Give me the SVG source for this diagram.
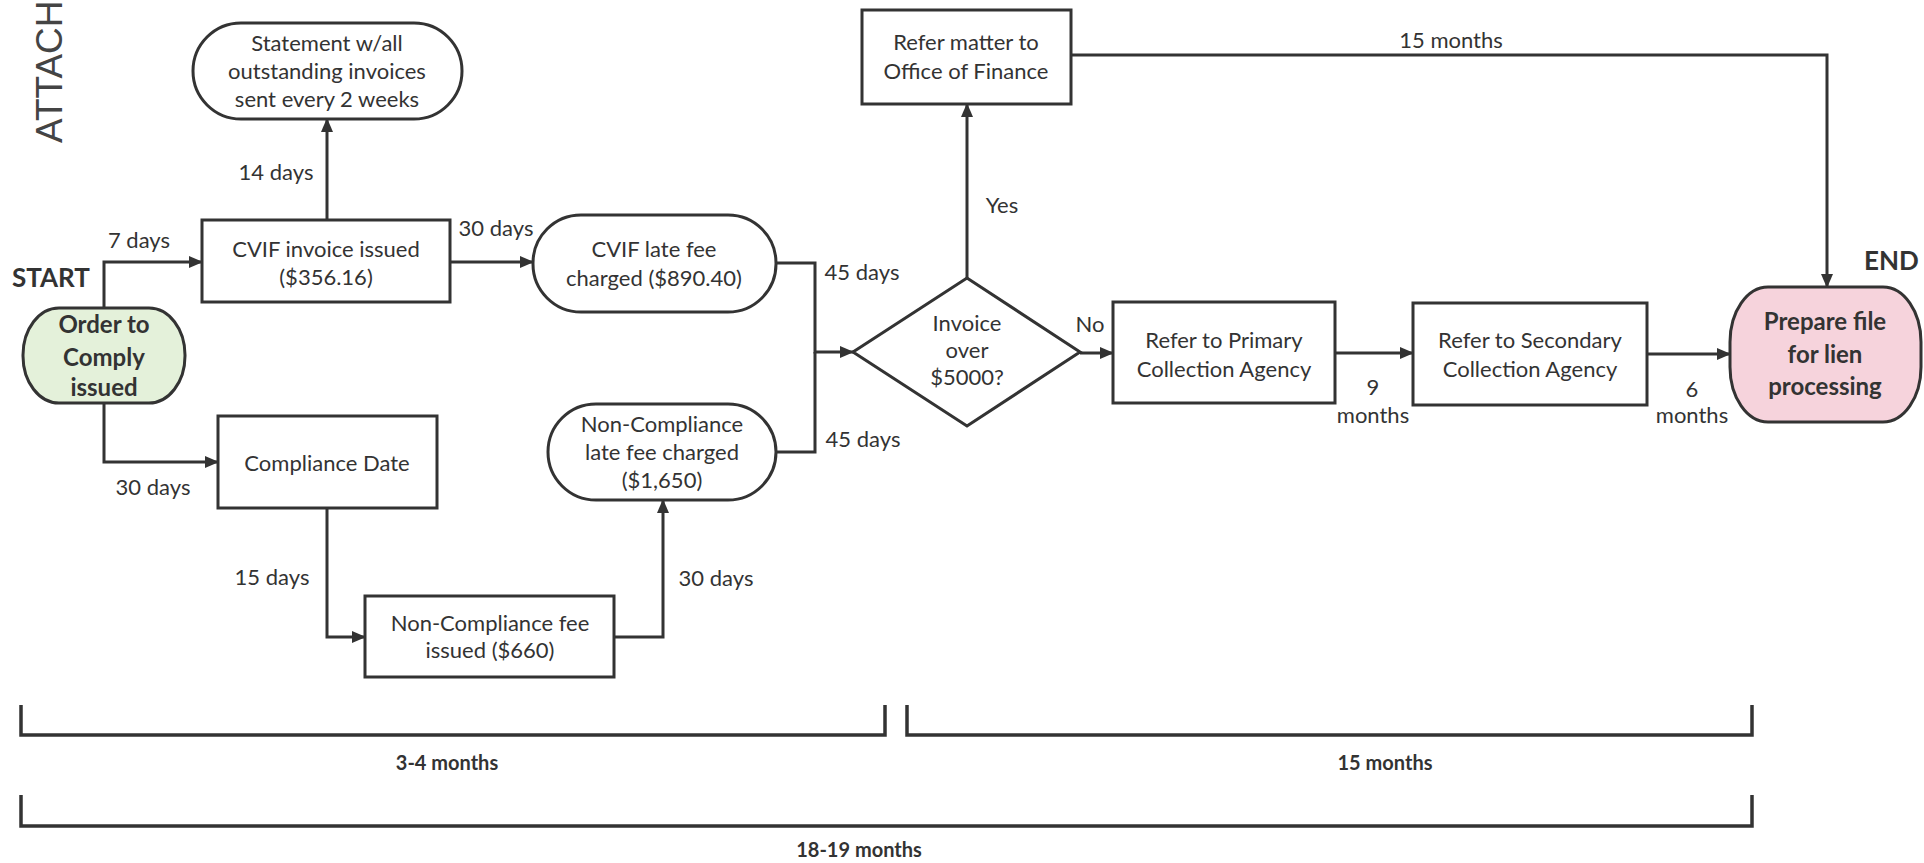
<svg xmlns="http://www.w3.org/2000/svg" width="1924" height="863" viewBox="0 0 1924 863">
<defs>
<marker id="ah" markerUnits="userSpaceOnUse" markerWidth="14" markerHeight="12" refX="13" refY="6" orient="auto">
<path d="M0,0 L14,6 L0,12 Z" fill="#333"/>
</marker>
<style>
.n{fill:#fff;stroke:#333;stroke-width:3}
.t{font-family:Lato,"Open Sans",sans-serif;font-size:22px;fill:#333;text-anchor:middle}
.b{font-family:Lato,"Open Sans",sans-serif;font-weight:bold;fill:#333;text-anchor:middle}
.c{fill:none;stroke:#333;stroke-width:3}
.br{fill:none;stroke:#333;stroke-width:3.5}
</style>
</defs>
<rect width="1924" height="863" fill="#fff"/>
<text transform="translate(62,143) rotate(-90)" font-family="Liberation Sans, Arial, sans-serif" font-size="37" fill="#444">ATTACH</text>

<g id="connectors">
<path class="c" d="M104,308 V262 H202" marker-end="url(#ah)"/>
<path class="c" d="M104,403 V462 H218" marker-end="url(#ah)"/>
<path class="c" d="M327,220 V119" marker-end="url(#ah)"/>
<path class="c" d="M450,262 H533" marker-end="url(#ah)"/>
<path class="c" d="M327,508 V637 H365" marker-end="url(#ah)"/>
<path class="c" d="M614,637 H663 V500" marker-end="url(#ah)"/>
<path class="c" d="M776,263 H815 V352 H853" marker-end="url(#ah)"/>
<path class="c" d="M776,452 H815 V352"/>
<path class="c" d="M967,278 V104" marker-end="url(#ah)"/>
<path class="c" d="M1080,353 H1113" marker-end="url(#ah)"/>
<path class="c" d="M1335,353 H1413" marker-end="url(#ah)"/>
<path class="c" d="M1647,354 H1730" marker-end="url(#ah)"/>
<path class="c" d="M1071,55 H1827 V287" marker-end="url(#ah)"/>
<text class="t" x="276" y="180">14 days</text>
<text class="t" x="139" y="248">7 days</text>
<text class="t" x="496" y="236">30 days</text>
<text class="t" x="153" y="495">30 days</text>
<text class="t" x="272" y="585">15 days</text>
<text class="t" x="716" y="586">30 days</text>
<text class="t" x="862" y="280">45 days</text>
<text class="t" x="863" y="447">45 days</text>
<text class="t" x="1002" y="213">Yes</text>
<text class="t" x="1090" y="332">No</text>
<text class="t" x="1373" y="395">9</text>
<text class="t" x="1373" y="423">months</text>
<text class="t" x="1692" y="397">6</text>
<text class="t" x="1692" y="423">months</text>
<text class="t" x="1451" y="48">15 months</text>
</g>

<g id="statement">
<rect class="n" x="193" y="23" width="269" height="96" rx="48" ry="48"/>
<text class="t" x="327" y="51">Statement w/all</text>
<text class="t" x="327" y="79">outstanding invoices</text>
<text class="t" x="327" y="107">sent every 2 weeks</text>
</g>
<g id="cvif-invoice">
<rect class="n" x="202" y="220" width="248" height="82"/>
<text class="t" x="326" y="257">CVIF invoice issued</text>
<text class="t" x="326" y="285">($356.16)</text>
</g>
<g id="cvif-late">
<rect class="n" x="533" y="215" width="243" height="97" rx="48" ry="48"/>
<text class="t" x="654" y="257">CVIF late fee</text>
<text class="t" x="654" y="286">charged ($890.40)</text>
</g>
<g id="nc-late">
<rect class="n" x="548" y="404" width="228" height="96" rx="48" ry="48"/>
<text class="t" x="662" y="432">Non-Compliance</text>
<text class="t" x="662" y="460">late fee charged</text>
<text class="t" x="662" y="488">($1,650)</text>
</g>
<g id="order">
<rect x="23" y="308" width="162" height="95" rx="36" ry="47" fill="#e4f1da" stroke="#333" stroke-width="3"/>
<text class="b" font-size="24" x="104" y="333">Order to</text>
<text class="b" font-size="24" x="104" y="366">Comply</text>
<text class="b" font-size="24" x="104" y="396">issued</text>
</g>
<text class="b" font-size="26" x="12" y="287" style="text-anchor:start">START</text>
<g id="compliance-date">
<rect class="n" x="218" y="416" width="219" height="92"/>
<text class="t" x="327" y="471">Compliance Date</text>
</g>
<g id="nc-fee">
<rect class="n" x="365" y="596" width="249" height="81"/>
<text class="t" x="490" y="631">Non-Compliance fee</text>
<text class="t" x="490" y="658">issued ($660)</text>
</g>
<g id="decision">
<polygon class="n" points="853,352 967,278 1080,352 967,426"/>
<text class="t" x="967" y="331">Invoice</text>
<text class="t" x="967" y="358">over</text>
<text class="t" x="967" y="385">$5000?</text>
</g>
<g id="office-finance">
<rect class="n" x="862" y="10" width="209" height="94"/>
<text class="t" x="966" y="50">Refer matter to</text>
<text class="t" x="966" y="79">Office of Finance</text>
</g>
<g id="primary">
<rect class="n" x="1113" y="302" width="222" height="101"/>
<text class="t" x="1224" y="348">Refer to Primary</text>
<text class="t" x="1224" y="377">Collection Agency</text>
</g>
<g id="secondary">
<rect class="n" x="1413" y="303" width="234" height="102"/>
<text class="t" x="1530" y="348">Refer to Secondary</text>
<text class="t" x="1530" y="377">Collection Agency</text>
</g>
<g id="end">
<rect x="1730" y="287" width="191" height="135" rx="38" ry="55" fill="#f6d3dc" stroke="#333" stroke-width="3"/>
<text class="b" font-size="24" x="1825" y="330">Prepare file</text>
<text class="b" font-size="24" x="1825" y="363">for lien</text>
<text class="b" font-size="24" x="1825" y="395">processing</text>
</g>
<text class="b" font-size="26" x="1864" y="270" style="text-anchor:start">END</text>

<g id="timeline">
<path class="br" d="M21,705 V735 H885 V705"/>
<path class="br" d="M907,705 V735 H1752 V705"/>
<path class="br" d="M21,795 V826 H1752 V795"/>
<text class="b" font-size="20" x="447" y="770">3-4 months</text>
<text class="b" font-size="20" x="1385" y="770">15 months</text>
<text class="b" font-size="20" x="859" y="857">18-19 months</text>
</g>
</svg>
